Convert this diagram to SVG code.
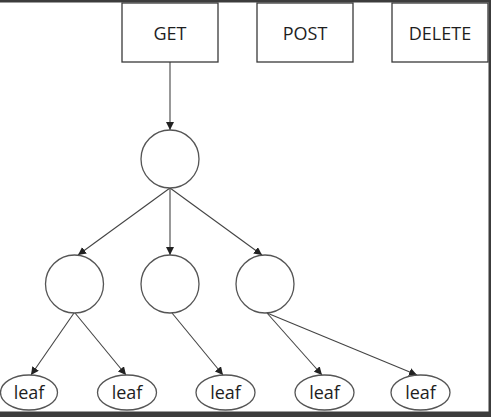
<svg xmlns="http://www.w3.org/2000/svg" width="491" height="417" viewBox="0 0 491 417">
<style>
.box{fill:#fff;stroke:#3a3a3a;stroke-width:1.3}
.circ{fill:#fff;stroke:#555;stroke-width:1.3}
.lbl{font-family:"Open Sans","Noto Sans",sans-serif;font-size:18px;fill:#1e1e1e;text-anchor:middle;dominant-baseline:central}
.edge{stroke:#444;stroke-width:1.1;fill:none;marker-end:url(#arr)}
</style>
<defs>
<marker id="arr" viewBox="0 0 10 10" refX="10" refY="5" markerWidth="8" markerHeight="8" markerUnits="userSpaceOnUse" orient="auto">
<path d="M0,0 L10,5 L0,10 z" fill="#222"/>
</marker>
</defs>
<rect x="0" y="0" width="491" height="417" fill="#fff"/>
<rect x="0" y="0" width="491" height="2.5" fill="#3c3c3c"/>
<rect x="488.5" y="0" width="2.5" height="417" fill="#3c3c3c"/>
<rect x="0" y="411.5" width="491" height="5.5" fill="#3c3c3c"/>
<g id="connectors">
<line class="edge" x1="170" y1="62" x2="170" y2="130"/>
<line class="edge" x1="170" y1="188" x2="78" y2="255"/>
<line class="edge" x1="170" y1="188" x2="170" y2="255"/>
<line class="edge" x1="170" y1="188" x2="262" y2="255"/>
<line class="edge" x1="74" y1="313" x2="31" y2="375"/>
<line class="edge" x1="75" y1="313" x2="126" y2="375"/>
<line class="edge" x1="172" y1="313" x2="223" y2="375"/>
<line class="edge" x1="267" y1="313" x2="322" y2="375"/>
<line class="edge" x1="267" y1="313" x2="417" y2="375"/>
</g>
<g id="get"><rect class="box" x="122" y="3" width="96" height="59"/><text class="lbl" x="170" y="33">GET</text></g>
<g id="post"><rect class="box" x="257" y="3" width="96" height="59"/><text class="lbl" x="305" y="33">POST</text></g>
<g id="delete"><rect class="box" x="392" y="3" width="96" height="59"/><text class="lbl" x="440" y="33">DELETE</text></g>
<g id="root"><circle class="circ" cx="170" cy="159" r="29"/></g>
<g id="n1"><circle class="circ" cx="74.5" cy="284" r="29"/></g>
<g id="n2"><circle class="circ" cx="170" cy="284" r="29"/></g>
<g id="n3"><circle class="circ" cx="265" cy="284" r="29"/></g>
<g id="leaf1"><ellipse class="circ" cx="29" cy="392.5" rx="28.5" ry="17.5"/><text class="lbl" x="29" y="392">leaf</text></g>
<g id="leaf2"><ellipse class="circ" cx="127" cy="392.5" rx="29.5" ry="17.5"/><text class="lbl" x="127" y="392">leaf</text></g>
<g id="leaf3"><ellipse class="circ" cx="225.5" cy="392.5" rx="29.5" ry="17.5"/><text class="lbl" x="225.5" y="392">leaf</text></g>
<g id="leaf4"><ellipse class="circ" cx="324.5" cy="392.5" rx="29.5" ry="17.5"/><text class="lbl" x="324.5" y="392">leaf</text></g>
<g id="leaf5"><ellipse class="circ" cx="420.5" cy="392.5" rx="29.5" ry="17.5"/><text class="lbl" x="420.5" y="392">leaf</text></g>
</svg>
